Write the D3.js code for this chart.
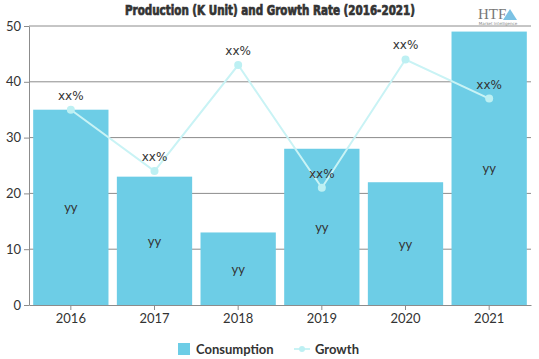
<!DOCTYPE html>
<html><head><meta charset="utf-8">
<script src="https://cdn.jsdelivr.net/npm/d3@7"></script>
<style>body{margin:0;background:#fff}svg{display:block}</style>
</head><body><svg id="c" width="539" height="359"></svg>
<script>
const years = ["2016","2017","2018","2019","2020","2021"];
const consumption = [35, 23, 13, 28, 22, 49];
const growth = [35, 24, 43, 21, 44, 37];
const barLabels = ["yy","yy","yy","yy","yy","yy"];
const growthLabels = ["xx%","xx%","xx%","xx%","xx%","xx%"];
const yTicks = [0,10,20,30,40,50];

const svg = d3.select("#c");
const m = {l:29, r:8, t:26, b:54};
const W = 539, H = 359;
const x = d3.scaleBand().domain(years).range([m.l, W - m.r]).paddingInner(0.1).paddingOuter(0.05);
const y = d3.scaleLinear().domain([0,50]).range([H - m.b, m.t]);

// gridlines
svg.append("g").selectAll("line").data(yTicks.slice(1)).join("line")
  .attr("x1", m.l).attr("x2", W - m.r)
  .attr("y1", d => y(d)).attr("y2", d => y(d))
  .attr("stroke", "#8c8c8c").attr("stroke-width", 1);

// bars
svg.append("g").selectAll("rect").data(consumption).join("rect")
  .attr("x", (d,i) => x(years[i])).attr("width", x.bandwidth())
  .attr("y", d => y(d)).attr("height", d => y(0) - y(d))
  .attr("fill", "#6dcde6");

svg.append("g").selectAll("text").data(consumption).join("text")
  .attr("x", (d,i) => x(years[i]) + x.bandwidth()/2)
  .attr("y", d => (y(d) + y(0))/2 + 5)
  .attr("text-anchor","middle").attr("font-family","Lato, 'Open Sans', sans-serif")
  .attr("font-size", 13).attr("fill","#333").text((d,i) => barLabels[i]);

// axes
const yAxis = svg.append("g").attr("transform", `translate(${m.l},0)`)
  .call(d3.axisLeft(y).tickValues(yTicks).tickSize(5).tickSizeOuter(0));
const xAxis = svg.append("g").attr("transform", `translate(0,${y(0)})`)
  .call(d3.axisBottom(x).tickSize(5).tickSizeOuter(0));
[yAxis, xAxis].forEach(a => {
  a.select(".domain").attr("stroke","#8c8c8c");
  a.selectAll(".tick line").attr("stroke","#8c8c8c");
  a.selectAll("text").attr("font-family","Lato, 'Open Sans', sans-serif").attr("font-size",13).attr("fill","#333");
});
yAxis.selectAll("text").attr("x", -8);
xAxis.selectAll("text").attr("y", 9);

// growth line
const lineGen = d3.line().x((d,i) => x(years[i]) + x.bandwidth()/2).y(d => y(d));
svg.append("path").datum(growth).attr("d", lineGen)
  .attr("fill","none").attr("stroke","#c9f3f5").attr("stroke-width",2);
svg.append("g").selectAll("circle").data(growth).join("circle")
  .attr("cx", (d,i) => x(years[i]) + x.bandwidth()/2).attr("cy", d => y(d))
  .attr("r", 4).attr("fill","#bdf0f3");
svg.append("g").selectAll("text").data(growth).join("text")
  .attr("x", (d,i) => x(years[i]) + x.bandwidth()/2).attr("y", d => y(d) - 10)
  .attr("text-anchor","middle").attr("font-family","'DejaVu Sans', sans-serif")
  .attr("font-size", 12).attr("fill","#333").text((d,i) => growthLabels[i]);

// title
svg.append("text").attr("x", 270).attr("y", 15).attr("text-anchor","middle")
  .attr("font-family","'Liberation Sans Narrow', 'DejaVu Sans Condensed', sans-serif")
  .attr("font-weight","bold").attr("font-size",14).attr("fill","#333")
  .attr("stroke","#333").attr("stroke-width",0.7)
  .attr("textLength", 290).attr("lengthAdjust","spacingAndGlyphs")
  .text("Production (K Unit) and Growth Rate (2016-2021)");

// logo
const logo = svg.append("g");
logo.append("text").attr("x", 478).attr("y", 19).attr("font-family","'Liberation Serif', serif")
  .attr("font-size", 15).attr("fill","#777").text("HTF");
logo.append("path").attr("d","M503,20 L510,9 L517,20 Z").attr("fill","#5ab3dd").attr("opacity",0.8);
logo.append("text").attr("x", 498).attr("y", 25).attr("text-anchor","middle")
  .attr("font-family","'DejaVu Sans', sans-serif").attr("font-size", 4).attr("fill","#888")
  .text("Market Intelligence");

// legend
const lg = svg.append("g").attr("font-family","Lato, 'Open Sans', sans-serif").attr("font-size",13).attr("fill","#333").attr("font-weight","bold");
lg.append("rect").attr("x",178).attr("y",343).attr("width",12).attr("height",12).attr("fill","#6dcde6");
lg.append("text").attr("x",196).attr("y",354).text("Consumption");
lg.append("line").attr("x1",294).attr("x2",310).attr("y1",349).attr("y2",349).attr("stroke","#c9f3f5").attr("stroke-width",2);
lg.append("circle").attr("cx",302).attr("cy",349).attr("r",3).attr("fill","#bdf0f3");
lg.append("text").attr("x",315).attr("y",354).text("Growth");
</script></body></html>
